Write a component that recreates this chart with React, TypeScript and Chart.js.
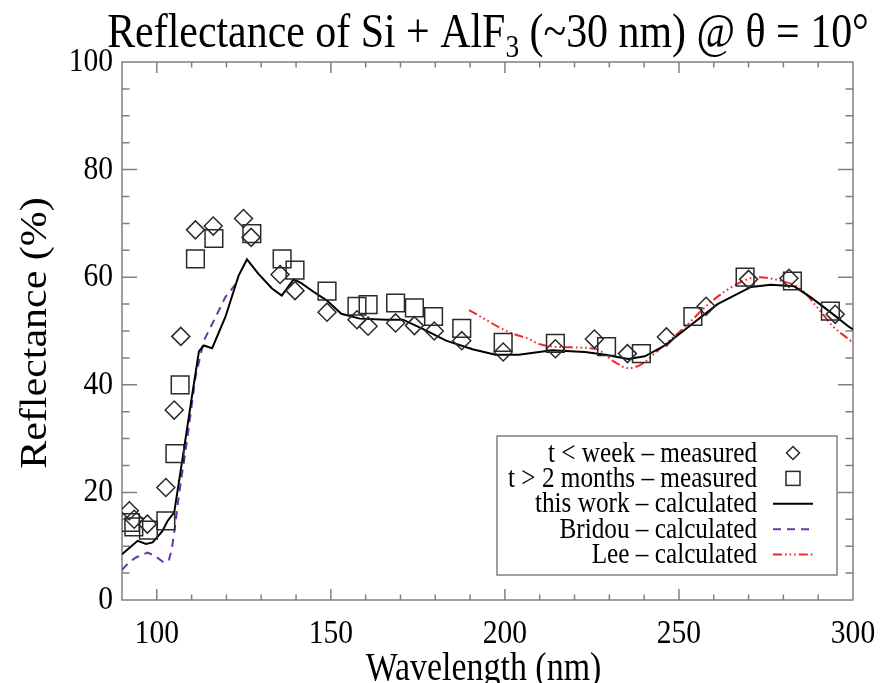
import React, { useEffect, useRef } from 'react';
import { Chart, registerables } from 'chart.js';

Chart.register(...registerables);

// ---- data ----
const weekX = [92.1, 93.5, 97.3, 102.6, 105.0, 106.9, 111.1, 116.2, 124.9, 127.1, 135.4, 139.7, 148.9, 157.5, 160.7, 168.6, 174.0, 179.7, 187.6, 199.5, 214.5, 225.7, 235.2, 246.4, 257.8, 270.0, 281.6, 294.9];
const weekY = [16.6, 15.0, 14.1, 20.9, 35.3, 49.0, 68.8, 69.5, 70.9, 67.4, 60.5, 57.5, 53.5, 52.1, 50.9, 51.5, 51.0, 50.0, 48.2, 46.1, 46.7, 48.5, 45.8, 48.9, 54.6, 59.6, 59.8, 53.1];

const monthsX = [92.4, 93.4, 97.6, 102.6, 105.2, 106.7, 111.1, 116.4, 127.3, 136.0, 139.7, 148.9, 157.5, 160.7, 168.6, 174.0, 179.5, 187.6, 199.5, 214.5, 229.2, 239.2, 254.0, 269.0, 282.6, 293.5];
const monthsY = [14.4, 13.6, 13.0, 14.7, 27.2, 40.0, 63.4, 67.2, 68.1, 63.4, 61.3, 57.4, 54.6, 54.9, 55.2, 54.3, 52.7, 50.5, 47.9, 47.7, 47.1, 45.8, 52.7, 60.0, 59.3, 53.7];

const thisWorkX = [90, 92, 94.5, 96.9, 98.8, 101.6, 103, 105.0, 107.3, 110.2, 112.1, 113.5, 115.9, 119.7, 123.5, 125.9, 129.2, 133.1, 135.9, 139.3, 141.5, 145, 148.8, 153.0, 158.3, 165.9, 170.7, 176.4, 183.1, 190.7, 197.3, 204, 213.5, 223.0, 228.8, 235.4, 240.2, 245.9, 252.6, 261.1, 270.7, 276.4, 283.1, 287.8, 293.5, 298.8, 300];
const thisWorkY = [8.5, 9.6, 11.0, 10.4, 10.7, 12.8, 14.6, 16.3, 25.9, 38.3, 46.2, 47.3, 46.8, 52.6, 60.3, 63.3, 60.6, 57.9, 56.6, 59.6, 58.9, 57.3, 55.7, 53.2, 52.3, 52.1, 52.1, 50.4, 48.2, 46.6, 45.6, 45.6, 46.4, 46.1, 45.6, 44.8, 45.3, 47.3, 50.7, 55.0, 58.2, 58.6, 58.3, 56.3, 53.5, 50.8, 50.3];

const bridouX = [90, 92, 94, 97.3, 99.5, 102.1, 103.5, 104.3, 105.3, 106.4, 108.8, 111.1, 113.5, 116.9, 119.7, 123.1];
const bridouY = [5.6, 7.0, 7.9, 8.8, 8.2, 6.9, 7.5, 9.4, 14.0, 19.7, 30.2, 41.4, 48.2, 52.6, 56.3, 59.1];

const leeX = [189.7, 201.1, 206.9, 209.7, 216.4, 225.9, 231.6, 235.4, 239.2, 244.0, 251.6, 259.2, 266.9, 272.6, 278.3, 285.0, 289.7, 294.5, 299.3, 300];
const leeY = [53.9, 49.8, 48.5, 47.6, 47.0, 46.7, 44.2, 43.1, 43.8, 46.4, 50.7, 55.4, 58.8, 60.0, 59.5, 57.8, 54.4, 50.7, 48.2, 47.8];

const xTickValues = [100, 150, 200, 250, 300];
const xTickLabels = ['100', '150', '200', '250', '300'];
const yTickValues = [0, 20, 40, 60, 80, 100];
const yTickLabels = ['0', '20', '40', '60', '80', '100'];

const titleMain = 'Reflectance of Si + AlF';
const titleSub = '3';
const titleRest = ' (~30 nm) @ θ = 10°';
const xTitle = 'Wavelength (nm)';
const yTitle = 'Reflectance (%)';
const legendLabels = [
  't < week – measured',
  't > 2 months – measured',
  'this work – calculated',
  'Bridou – calculated',
  'Lee – calculated',
];

// ---- styles ----
const FONT = "'Liberation Serif', 'Times New Roman', serif";
const SX = 0.87;
const TITLE_SX = 0.855;
const AXIS_COLOR = '#808080';
const MARK_COLOR = '#2a2a2a';
const PURPLE = '#6a35a8';
const RED = '#ee2a2a';
const RED_DASH = [9, 3, 1.6, 3, 1.6, 3, 1.6, 3];
const PURPLE_DASH = [8, 6];

const zip = (xs: number[], ys: number[]) => xs.map((x, i) => ({ x, y: ys[i] }));

function drawText(ctx: CanvasRenderingContext2D, s: string, x: number, y: number, size: number, align: CanvasTextAlign, baseline: CanvasTextBaseline = 'alphabetic', sx = SX) {
  ctx.save();
  ctx.translate(x, y);
  ctx.scale(sx, 1);
  ctx.font = `${size}px ${FONT}`;
  ctx.textAlign = align;
  ctx.textBaseline = baseline;
  ctx.fillStyle = '#000';
  ctx.fillText(s, 0, 0);
  ctx.restore();
}

const framePlugin = {
  id: 'frameTicks',
  beforeDatasetsDraw(chart: any) {
    const { ctx, chartArea } = chart;
    const { left, right, top, bottom } = chartArea;
    const xs = chart.scales.x;
    const ys = chart.scales.y;
    ctx.save();
    ctx.strokeStyle = AXIS_COLOR;
    ctx.lineWidth = 1.5;
    ctx.strokeRect(left, top, right - left, bottom - top);
    ctx.beginPath();
    for (let v = 100; v < 300; v += 10) {
      const px = xs.getPixelForValue(v);
      const len = v % 50 === 0 ? 11 : 5.5;
      ctx.moveTo(px, bottom); ctx.lineTo(px, bottom - len);
      ctx.moveTo(px, top); ctx.lineTo(px, top + len);
    }
    for (let v = 5; v < 100; v += 5) {
      const py = ys.getPixelForValue(v);
      const len = v % 20 === 0 ? 15 : 7.5;
      ctx.moveTo(left, py); ctx.lineTo(left + len, py);
      ctx.moveTo(right, py); ctx.lineTo(right - len, py);
    }
    ctx.stroke();
    ctx.restore();
  },
  afterDraw(chart: any) {
    const { ctx, chartArea } = chart;
    const { left, right, top, bottom } = chartArea;
    const xs = chart.scales.x;
    const ys = chart.scales.y;

    // tick labels
    xTickValues.forEach((v, i) => {
      drawText(ctx, xTickLabels[i], xs.getPixelForValue(v), bottom + 43, 34, 'center');
    });
    yTickValues.forEach((v, i) => {
      drawText(ctx, yTickLabels[i], left - 9, ys.getPixelForValue(v), 34, 'right', 'middle');
    });

    // axis titles
    drawText(ctx, xTitle, (left + right) / 2 - 4, 680, 39, 'center');
    ctx.save();
    ctx.translate(46, (top + bottom) / 2 + 2);
    ctx.rotate(-Math.PI / 2);
    ctx.scale(1, 0.92);
    ctx.font = `42px ${FONT}`;
    ctx.textAlign = 'center';
    ctx.textBaseline = 'alphabetic';
    ctx.fillStyle = '#000';
    ctx.fillText(yTitle, 0, 0);
    ctx.restore();

    // title with subscript
    ctx.save();
    const tSize = 49;
    const sSize = 32;
    ctx.font = `${tSize}px ${FONT}`;
    const w1 = ctx.measureText(titleMain).width * TITLE_SX;
    const w3 = ctx.measureText(titleRest).width * TITLE_SX;
    ctx.font = `${sSize}px ${FONT}`;
    const w2 = ctx.measureText(titleSub).width * TITLE_SX;
    ctx.restore();
    const total = w1 + w2 + w3;
    const tx = 488 - total / 2;
    const ty = 47;
    drawText(ctx, titleMain, tx, ty, tSize, 'left', 'alphabetic', TITLE_SX);
    drawText(ctx, titleSub, tx + w1, ty + 10, sSize, 'left', 'alphabetic', TITLE_SX);
    drawText(ctx, titleRest, tx + w1 + w2, ty, tSize, 'left', 'alphabetic', TITLE_SX);

    // legend
    const bx = 497, by = 436, bw = 340, bh = 139;
    ctx.save();
    ctx.fillStyle = '#fff';
    ctx.fillRect(bx, by, bw, bh);
    ctx.strokeStyle = AXIS_COLOR;
    ctx.lineWidth = 1.5;
    ctx.strokeRect(bx, by, bw, bh);
    ctx.restore();
    const rowY = (i: number) => 453 + i * 25.4;
    legendLabels.forEach((s, i) => {
      drawText(ctx, s, 757, rowY(i) + 1, 29, 'right', 'middle');
    });
    const sxc = 793;
    ctx.save();
    ctx.strokeStyle = MARK_COLOR;
    ctx.lineWidth = 1.5;
    // diamond
    let cy = rowY(0);
    ctx.beginPath();
    ctx.moveTo(sxc, cy - 6.5); ctx.lineTo(sxc + 6.5, cy); ctx.lineTo(sxc, cy + 6.5); ctx.lineTo(sxc - 6.5, cy); ctx.closePath();
    ctx.stroke();
    // square
    cy = rowY(1);
    ctx.strokeRect(sxc - 7, cy - 7, 14, 14);
    // lines
    const lx0 = 773, lx1 = 813;
    cy = rowY(2);
    ctx.strokeStyle = '#000';
    ctx.lineWidth = 2;
    ctx.beginPath(); ctx.moveTo(lx0, cy); ctx.lineTo(lx1, cy); ctx.stroke();
    cy = rowY(3);
    ctx.strokeStyle = PURPLE;
    ctx.setLineDash(PURPLE_DASH);
    ctx.beginPath(); ctx.moveTo(lx0, cy); ctx.lineTo(lx1, cy); ctx.stroke();
    cy = rowY(4);
    ctx.strokeStyle = RED;
    ctx.setLineDash(RED_DASH);
    ctx.beginPath(); ctx.moveTo(lx0, cy); ctx.lineTo(lx1, cy); ctx.stroke();
    ctx.restore();
  },
};

export default function App() {
  const ref = useRef<HTMLCanvasElement | null>(null);
  useEffect(() => {
    if (!ref.current) return;
    const chart = new Chart(ref.current, {
      type: 'scatter',
      data: {
        datasets: [
          {
            label: legendLabels[0],
            data: zip(weekX, weekY),
            showLine: false,
            pointStyle: 'rectRot',
            pointRadius: 9,
            pointBorderColor: MARK_COLOR,
            pointBackgroundColor: 'rgba(0,0,0,0)',
            pointBorderWidth: 1.5,
          },
          {
            label: legendLabels[1],
            data: zip(monthsX, monthsY),
            showLine: false,
            pointStyle: 'rect',
            pointRadius: 12.5,
            pointBorderColor: MARK_COLOR,
            pointBackgroundColor: 'rgba(0,0,0,0)',
            pointBorderWidth: 1.5,
          },
          {
            label: legendLabels[2],
            data: zip(thisWorkX, thisWorkY),
            showLine: true,
            borderColor: '#000',
            borderWidth: 2,
            pointRadius: 0,
            tension: 0,
          },
          {
            label: legendLabels[3],
            data: zip(bridouX, bridouY),
            showLine: true,
            borderColor: PURPLE,
            borderWidth: 2,
            borderDash: PURPLE_DASH,
            pointRadius: 0,
            tension: 0,
          },
          {
            label: legendLabels[4],
            data: zip(leeX, leeY),
            showLine: true,
            borderColor: RED,
            borderWidth: 2,
            borderDash: RED_DASH,
            pointRadius: 0,
            cubicInterpolationMode: 'monotone',
          },
        ],
      } as any,
      options: {
        animation: false,
        responsive: false,
        events: [],
        layout: { padding: { left: 122, right: 28, top: 62, bottom: 83 } },
        plugins: {
          legend: { display: false },
          title: { display: false },
          tooltip: { enabled: false },
        },
        scales: {
          x: { type: 'linear', min: 90, max: 300, display: false },
          y: { type: 'linear', min: 0, max: 100, display: false },
        },
      },
      plugins: [framePlugin],
    });
    return () => chart.destroy();
  }, []);
  return (
    <div style={{ position: 'fixed', left: 0, top: 0, width: 881, height: 683, background: '#fff' }}>
      <canvas ref={ref} width={881} height={683} style={{ display: 'block' }} />
    </div>
  );
}
